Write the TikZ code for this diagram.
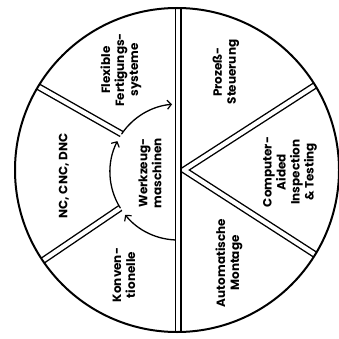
\documentclass[tikz,border=0pt]{standalone}
\usepackage{fontspec}
\setmainfont{Poppins}
\usetikzlibrary{arrows.meta}
\begin{document}
\begin{tikzpicture}[x=1pt,y=1pt,
  dbl/.style={draw=black, line width=1.4pt, double=white, double distance=4.2pt},
  rim/.style={draw=black, line width=2pt},
  flow/.style={draw=black, line width=1.3pt, -{Straight Barb[length=4pt,width=9pt,line width=1.2pt]}},
  lbl/.style={rotate=90, align=center, inner sep=0pt, font=\fontsize{12}{14}\selectfont\bfseries}]
\useasboundingbox (0,0) rectangle (339,338);
% key points
\coordinate (O) at (177,168);
\coordinate (C) at (178,166);
\coordinate (top) at (178,330);
\coordinate (bot) at (178,6);
\coordinate (apex) at (184,168);
\coordinate (vu) at (315.1,252.6);
\coordinate (vl) at (315.1,83.4);
\coordinate (ju) at (121.6,204.0);
\coordinate (ou) at (38.1,251.4);
\coordinate (jl) at (120.3,130.0);
\coordinate (ol) at (42.7,77.4);
\coordinate (ab) at (178,98);
% right V
\draw[dbl] (vu) -- (apex) -- (vl);
% left radial separators
\draw[dbl] (ju) -- (ou);
\draw[dbl] (jl) -- (ol);
% inner arc with arrows
\draw[flow] (ab) arc[start angle=270, end angle=219, radius=68];
\draw[flow] (jl) arc[start angle=212, end angle=153, radius=68];
\draw[flow] (ju) arc[start angle=146, end angle=95, radius=68];
% vertical divider
\draw[dbl] (top) -- (bot);
% outer circle
\draw[rim] (O) circle[radius=162];
% labels
\node[lbl] (ffs) at (121,268) {Flexible\\Fertigungs-\\systeme};
\node[lbl] (nc) at (64,162) {NC, CNC, DNC};
\node[lbl] (konv) at (124,63) {Konven-\\tionelle};
\node[lbl] (wzm) at (150,165) {Werkzeug-\\maschinen};
\node[lbl] (proz) at (226,266) {Prozeß-\\Steuerung};
\node[lbl] (cait) at (290,166) {Computer-\\Aided\\Inspection\\\& Testing};
\node[lbl] (am) at (229,75) {Automatische\\Montage};
\end{tikzpicture}
\end{document}
